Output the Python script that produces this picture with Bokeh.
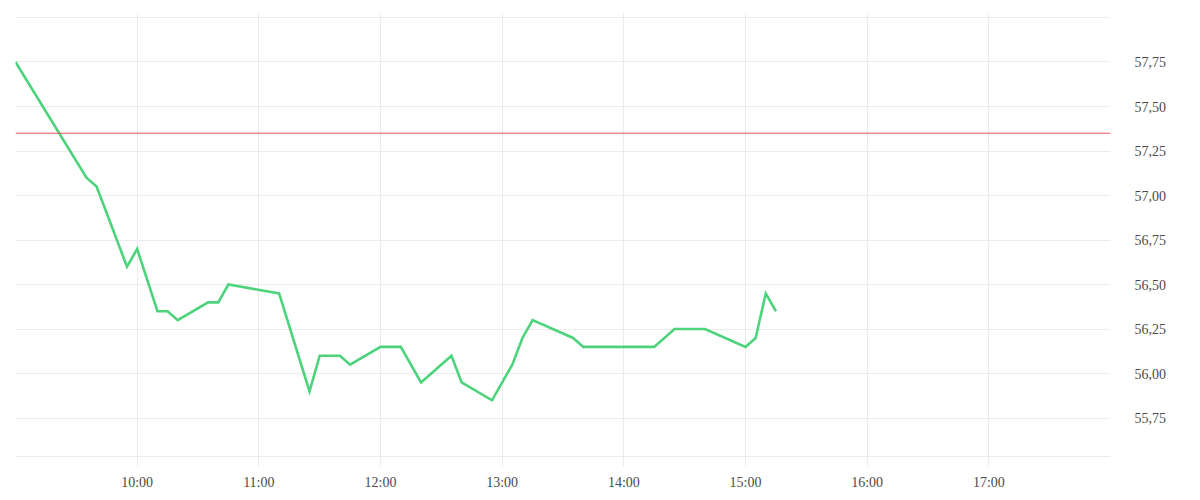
import pandas as pd
from bokeh.plotting import figure
from bokeh.models import FixedTicker, DatetimeTickFormatter, Span, Range1d
from bokeh.embed import file_html
from bokeh.resources import INLINE

# ---- data ----
day = "2024-01-02"
times = ["09:00", "09:35", "09:40", "09:55", "10:00", "10:10", "10:15", "10:20",
         "10:35", "10:40", "10:45", "11:10", "11:25", "11:30", "11:40", "11:45",
         "12:00", "12:10", "12:20", "12:35", "12:40", "12:55", "13:05", "13:10",
         "13:15", "13:35", "13:40", "14:15", "14:25", "14:40", "15:00", "15:05",
         "15:10", "15:15"]
values = [57.75, 57.10, 57.05, 56.60, 56.70, 56.35, 56.35, 56.30,
          56.40, 56.40, 56.50, 56.45, 55.90, 56.10, 56.10, 56.05,
          56.15, 56.15, 55.95, 56.10, 55.95, 55.85, 56.05, 56.20,
          56.30, 56.20, 56.15, 56.15, 56.25, 56.25, 56.15, 56.20,
          56.45, 56.35]
reference_level = 57.35

x_start, x_end = "09:00", "18:00"
x_grid_hours = ["09:00", "10:00", "11:00", "12:00", "13:00", "14:00",
                "15:00", "16:00", "17:00", "18:00"]
x_label_hours = ["10:00", "11:00", "12:00", "13:00", "14:00",
                 "15:00", "16:00", "17:00"]
y_ticks = [55.75, 56.00, 56.25, 56.50, 56.75, 57.00, 57.25, 57.50, 57.75]
y_tick_labels = ["55,75", "56,00", "56,25", "56,50", "56,75", "57,00",
                 "57,25", "57,50", "57,75"]
y_bounds = [55.534, 58.0]          # plot-area border lines
y_min, y_max = 55.478, 58.028      # visible range (grid stubs extend past borders)

# ---- build ----
def ms(t):
    return float(pd.Timestamp(f"{day} {t}").value // 10**6)

x = pd.to_datetime([f"{day} {t}" for t in times])

GRID = "#ebebeb"
FONT = "Liberation Serif"

p = figure(width=1192, height=492, x_axis_type="datetime", y_axis_location="right",
           output_backend="svg", toolbar_location=None,
           x_range=Range1d(ms(x_start), ms(x_end)), y_range=Range1d(y_min, y_max),
           min_border_left=15, min_border_right=82, min_border_top=12, min_border_bottom=24)
p.outline_line_color = None
p.background_fill_color = "white"
p.border_fill_color = "white"

for b in y_bounds:
    p.add_layout(Span(location=b, dimension="width", line_color=GRID, line_width=1))

p.line(x, values, line_color="#4cd37c", line_width=2.6, line_join="miter")
p.add_layout(Span(location=reference_level, dimension="width",
                  line_color="#f5505f", line_width=1))

# bottom axis
xa = p.xaxis[0]
xa.ticker = FixedTicker(ticks=[ms(t) for t in x_label_hours])
xa.formatter = DatetimeTickFormatter(hours="%H:%M", minutes="%H:%M", days="%H:%M")
xa.axis_line_color = None
xa.major_tick_line_color = None
xa.major_tick_in = 0
xa.major_tick_out = 0
xa.minor_tick_line_color = None
xa.major_label_standoff = 8
xa.major_label_text_font = FONT
xa.major_label_text_font_size = "14px"
xa.major_label_text_color = "#4a4a4a"

# right axis
ya = p.yaxis[0]
ya.ticker = FixedTicker(ticks=y_ticks)
ya.major_label_overrides = {t: lab for t, lab in zip(y_ticks, y_tick_labels)}
ya.axis_line_color = None
ya.major_tick_line_color = None
ya.minor_tick_line_color = None
ya.major_label_standoff = 18
ya.major_label_text_font = FONT
ya.major_label_text_font_size = "14px"
ya.major_label_text_color = "#4a4a4a"

p.xgrid.ticker = FixedTicker(ticks=[ms(t) for t in x_grid_hours])
p.xgrid.grid_line_color = GRID
p.ygrid.grid_line_color = GRID

open("out.html", "w").write(file_html(p, INLINE))
